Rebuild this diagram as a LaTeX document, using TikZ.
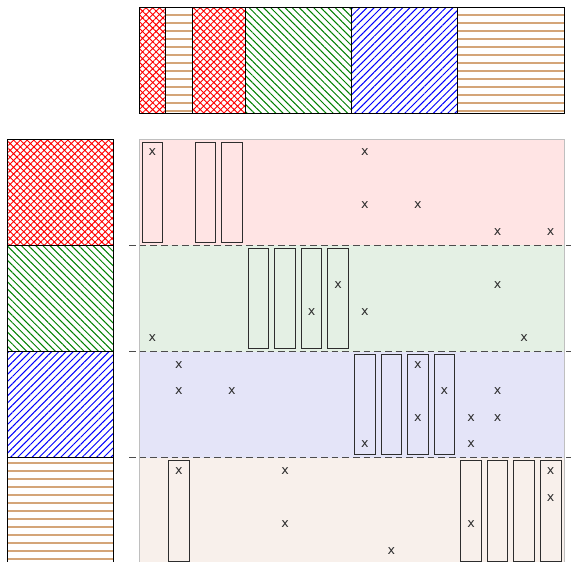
\documentclass[tikz,border=0pt]{standalone}
\usepackage{fontspec}
\setmainfont{DejaVu Sans}
\usetikzlibrary{patterns.meta}
\definecolor{webgreen}{RGB}{0,128,0}
\definecolor{hatchbrown}{RGB}{212,165,120}
\definecolor{bandred}{RGB}{255,228,228}
\definecolor{bandgreen}{RGB}{228,240,228}
\definecolor{bandblue}{RGB}{228,228,248}
\definecolor{bandbrown}{RGB}{248,240,235}
\definecolor{markgray}{RGB}{45,45,45}
\begin{document}
\begin{tikzpicture}[x=0.75pt,y=-0.75pt,
  redpat/.style={pattern={Hatch[angle=45,distance=3.6pt,line width=0.7pt]},pattern color=red},
  greenpat/.style={pattern={Lines[angle=-45,distance=3.8pt,line width=0.75pt]},pattern color=webgreen},
  bluepat/.style={pattern={Lines[angle=45,distance=3.8pt,line width=0.75pt]},pattern color=blue},
  brownline/.style={draw=hatchbrown,line width=0.85pt},
  barbox/.style={draw=black,line width=0.75pt},
  colbox/.style={draw=markgray,line width=0.75pt},
  sep/.style={draw=black!70,line width=0.9pt,dash pattern=on 5pt off 3pt},
  xmark/.style={inner sep=0pt,text=markgray,font=\fontsize{9.5}{10}\selectfont}]
\useasboundingbox (0,0) rectangle (571,561);
\def\cs{26.5625}
\def\bs{106.25}
% top bar
\fill[white] (139,7) rectangle (564,113.25);
\path[redpat]   (139,7) rectangle ({139+\cs},113.25);
\path[redpat]   ({139+2*\cs},7) rectangle ({139+4*\cs},113.25);
\path[greenpat] ({139+4*\cs},7) rectangle ({139+8*\cs},113.25);
\path[bluepat]  ({139+8*\cs},7) rectangle ({139+12*\cs},113.25);
\foreach \yy in {15,23,...,111}{
  \draw[brownline] ({139+\cs},\yy) -- ({139+2*\cs},\yy);
  \draw[brownline] ({139+12*\cs},\yy) -- (564,\yy);
}
\foreach \a/\b in {0/1,1/2,2/4,4/8,8/12,12/16}
  \draw[barbox] ({139+\a*\cs},7) rectangle ({139+\b*\cs},113.25);
% left bar
\path[redpat]   (7,139) rectangle (113.25,{139+\bs});
\path[greenpat] (7,{139+\bs}) rectangle (113.25,{139+2*\bs});
\path[bluepat]  (7,{139+2*\bs}) rectangle (113.25,{139+3*\bs});
\foreach \yy in {463,471,...,561}
  \draw[brownline] (7,\yy) -- (113.25,\yy);
\foreach \k in {0,1,2,3}
  \draw[barbox] (7,{139+\k*\bs}) rectangle (113.25,{139+(\k+1)*\bs});
% matrix bands
\fill[bandred]   (139,139) rectangle (564,{139+\bs});
\fill[bandgreen] (139,{139+\bs}) rectangle (564,{139+2*\bs});
\fill[bandblue]  (139,{139+2*\bs}) rectangle (564,{139+3*\bs});
\fill[bandbrown] (139,{139+3*\bs}) rectangle (564,{139+4*\bs});
\draw[black!25,line width=0.75pt] (139,139) rectangle (564,{139+4*\bs});
% column boxes
\foreach \b/\c in {0/0,0/2,0/3,1/4,1/5,1/6,1/7,2/8,2/9,2/10,2/11,3/1,3/12,3/13,3/14,3/15}
  \draw[colbox] ({139+\c*\cs+3},{139+\b*\bs+3}) rectangle ({139+(\c+1)*\cs-3},{139+(\b+1)*\bs-3});
% separators
\foreach \k in {1,2,3}
  \draw[sep] (129,{139+\k*\bs}) -- (575,{139+\k*\bs});
% marks
\foreach \r/\c in {0/0,0/8,2/8,2/10,3/13,3/15,5/7,5/13,6/6,6/8,7/0,7/14,8/1,8/10,9/1,9/3,9/11,9/13,10/10,10/12,10/13,11/8,11/12,12/1,12/5,12/15,13/15,14/5,14/12,15/9}
  \node[xmark] (m\r-\c) at ({139+(\c+0.5)*\cs},{139+(\r+0.5)*\cs}) {x};
\end{tikzpicture}
\end{document}
